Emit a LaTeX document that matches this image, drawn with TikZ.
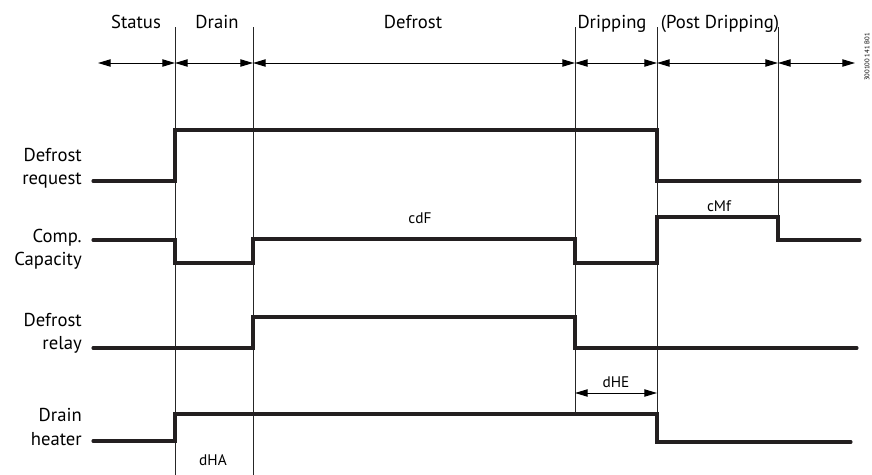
\documentclass[tikz,border=0pt]{standalone}
\usepackage{fontspec}
\setmainfont{PT Sans}
\usetikzlibrary{arrows.meta}
\definecolor{sigdark}{RGB}{35, 31, 32}

\tikzset{
  sig/.style={line width=2.3pt, sigdark, line join=miter, line cap=round},
  tick/.style={line width=0.55pt, black!85},
  phase/.style={{Triangle[length=9.5pt,width=5.5pt]}-{Triangle[length=9.5pt,width=5.5pt]}, line width=0.75pt},
  head/.style={font=\fontsize{14}{17}\selectfont, anchor=base},
  lbl/.style={font=\fontsize{14}{17.5}\selectfont, align=right, anchor=east, inner sep=0pt},
  tlbl/.style={font=\fontsize{11.5}{13}\selectfont}
}

\begin{document}
\begin{tikzpicture}[x=0.75pt, y=-0.75pt]
    \useasboundingbox (0,0) rectangle (872,475);

    % Time marks
    \foreach \n/\x/\yend in {t1/175/475, t2/253/475, t3/575/413, t4/657/413, t5/778/240} {
        \coordinate (\n) at (\x, 27);
        \coordinate (\n-end) at (\x, \yend);
        \coordinate (\n-a) at (\x, 63);
        \draw[tick] (\n) -- (\n-end);
    }
    \coordinate (t0-a) at (98, 63);
    \coordinate (t6-a) at (855, 63);

    % Phases
    \foreach \a/\b in {t0/t1, t1/t2, t2/t3, t3/t4, t4/t5, t5/t6} {
        \draw[phase] (\a-a) -- (\b-a);
    }
    \foreach \x/\txt in {136/Status, 217/Drain, 413/Defrost, 612/Dripping, 720/{(Post Dripping)}} {
        \node[head] (ph\x) at (\x, 28) {\txt};
    }

    % Signal names
    \node[lbl] (req) at (82, 168) {Defrost\\request};
    \node[lbl] (comp) at (82, 249) {Comp.\\Capacity};
    \node[lbl] (relay) at (82, 333) {Defrost\\relay};
    \node[lbl] (heat) at (82, 427) {Drain\\heater};

    % Defrost request
    \draw[sig] (93, 181) -- (175, 181) -- (175, 130) -- (657, 130) -- (657, 181) -- (860, 181);
    % Comp. capacity
    \draw[sig] (93, 240) -- (175, 240) -- (175, 263) -- (253, 263) -- (253, 239) -- (575, 239)
        -- (575, 263) -- (657, 263) -- (657, 217) -- (778, 217) -- (778, 240) -- (860, 240);
    % Defrost relay
    \draw[sig] (93, 348) -- (253, 348) -- (253, 317) -- (575, 317) -- (575, 348) -- (857, 348);
    % Drain heater
    \draw[sig] (93, 441) -- (175, 441) -- (175, 414) -- (657, 414) -- (657, 442) -- (851, 442);

    % Timers
    \node[tlbl] (cdf) at (420, 218) {cdF};
    \node[tlbl] (cmf) at (719, 206) {cMf};
    \node[tlbl] (dha) at (213, 460) {dHA};
    \node[tlbl] (dhe) at (616, 382) {dHE};
    \draw[phase] (t3 |- 0,393) -- (t4 |- 0,393);

    % Drawing number
    \node[rotate=90, font=\fontsize{5}{6}\selectfont] (num) at (867, 57) {300100 141 B01};
\end{tikzpicture}
\end{document}
